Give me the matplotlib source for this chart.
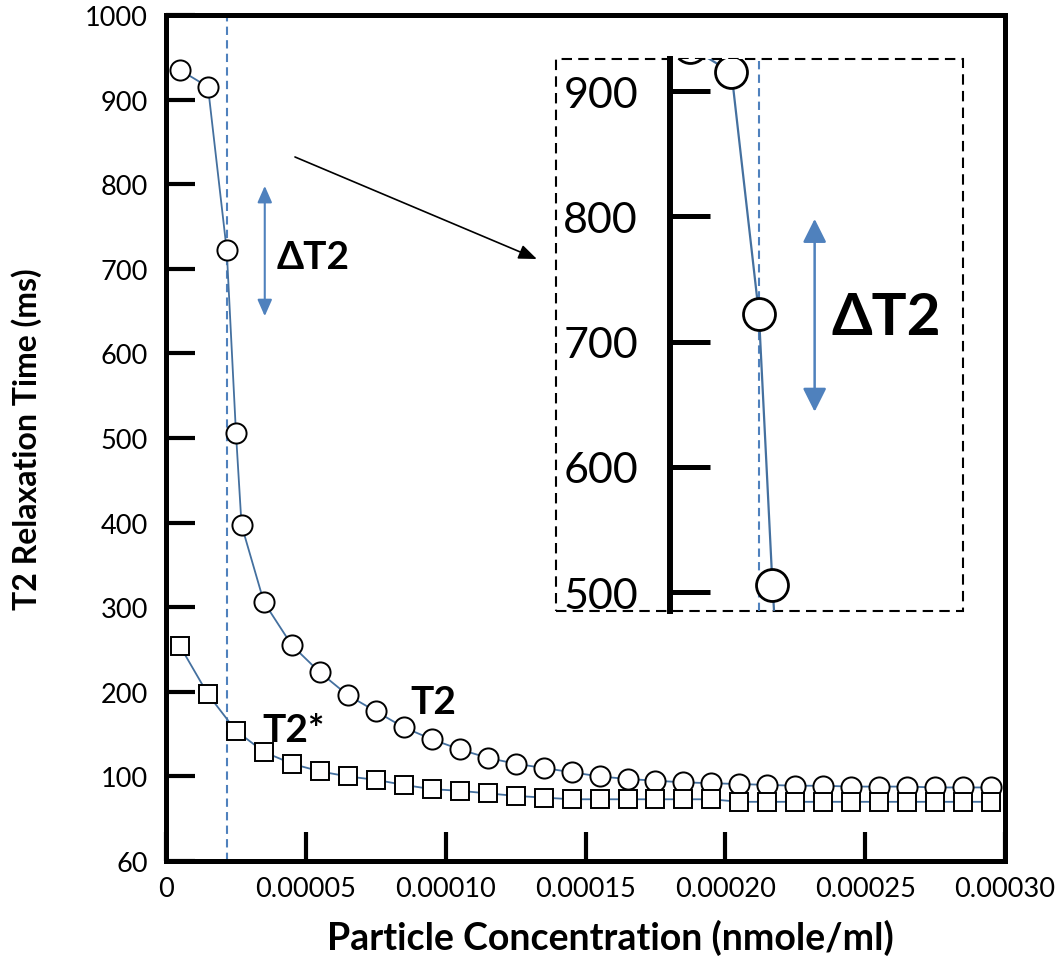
import matplotlib.pyplot as plt
import matplotlib.patches as patches
import numpy as np

plt.rcParams['font.family'] = ['Lato', 'DejaVu Sans']

# ========================  DATA ========================

# T2 (circles), concentration in nmole/ml
conc_t2 = np.array([5, 15, 21.7, 25, 27, 35, 45, 55, 65, 75, 85, 95, 105, 115, 125, 135,
                    145, 155, 165, 175, 185, 195, 205, 215, 225, 235, 245, 255, 265,
                    275, 285, 295]) * 1e-6
t2 = [935, 915, 722, 506, 397, 306, 255, 223, 196, 177, 158, 144, 132, 122, 115, 110,
      105, 100, 97, 95, 93, 92, 91, 90, 89, 89, 88, 88, 88, 87, 87, 87]

# T2* (squares)
conc_t2s = np.array([5, 15, 25, 35, 45, 55, 65, 75, 85, 95, 105, 115, 125, 135, 145,
                     155, 165, 175, 185, 195, 205, 215, 225, 235, 245, 255, 265, 275,
                     285, 295]) * 1e-6
t2s = [254, 197, 154, 129, 115, 106, 100, 96, 90, 85, 83, 80, 77, 75, 73,
       73, 73, 73, 73, 73, 70, 70, 70, 70, 70, 70, 70, 70, 70, 70]

x_ticks = [0, 0.00005, 0.00010, 0.00015, 0.00020, 0.00025, 0.00030]
x_tick_labels = ['0', '0.00005', '0.00010', '0.00015', '0.00020', '0.00025', '0.00030']
y_ticks = [0, 100, 200, 300, 400, 500, 600, 700, 800, 900, 1000]
y_tick_labels = ['60', '100', '200', '300', '400', '500', '600', '700', '800', '900', '1000']
inset_y_ticks = [500, 600, 700, 800, 900]

threshold_conc = 21.8e-6      # dashed marker line
delta_top, delta_bottom = 798, 644   # delta T2 arrow range
delta_conc = 35.3e-6

line_blue = '#44709F'
dash_blue = '#4F81BD'

# ========================  MAIN PLOT ========================

fig = plt.figure(figsize=(10.63, 9.70), dpi=100)
ax = fig.add_axes([0.1562, 0.1113, 0.7893, 0.8722])

ax.plot(conc_t2, t2, color=line_blue, lw=1.3, zorder=2)
ax.plot(conc_t2, t2, 'o', ms=14.5, mfc='white', mec='black', mew=1.4, zorder=3)
ax.plot(conc_t2s, t2s, color=line_blue, lw=1.3, zorder=2)
ax.plot(conc_t2s, t2s, 's', ms=13.5, mfc='white', mec='black', mew=1.4, zorder=3)

ax.axvline(threshold_conc, color=dash_blue, lw=1.5, ls=(0, (4, 2.5)), zorder=1)

ax.annotate('', xy=(delta_conc, delta_bottom), xytext=(delta_conc, delta_top),
            arrowprops=dict(arrowstyle='<|-|>,head_length=0.5,head_width=0.22',
                            color=dash_blue, lw=1.5, mutation_scale=20,
                            shrinkA=0, shrinkB=0))
ax.text(39.7e-6, 714, 'ΔT2', fontsize=28, fontweight='bold', va='center', ha='left')
ax.text(34.3e-6, 156, 'T2*', fontsize=28, fontweight='bold', va='center', ha='left')
ax.text(87.2e-6, 189, 'T2', fontsize=28, fontweight='bold', va='center', ha='left')

# pointer towards the zoomed box
ax.annotate('', xy=(132.6e-6, 711.6), xytext=(46.1e-6, 832.2),
            arrowprops=dict(arrowstyle='-|>,head_length=0.55,head_width=0.22',
                            color='black', lw=1.2, mutation_scale=20,
                            shrinkA=0, shrinkB=0))

ax.set_xlim(0, 0.0003)
ax.set_ylim(0, 1000)
ax.set_xticks(x_ticks)
ax.set_xticklabels(x_tick_labels)
ax.set_yticks(y_ticks)
ax.set_yticklabels(y_tick_labels)
for s in ax.spines.values():
    s.set_linewidth(3.6)
ax.tick_params(direction='in', length=21, width=3, labelsize=19.5)
ax.tick_params(axis='x', pad=11)
ax.tick_params(axis='y', pad=13)

ax.set_xlabel('Particle Concentration (nmole/ml)', fontsize=27, fontweight='bold')
ax.set_ylabel('T2 Relaxation Time (ms)', fontsize=23, fontweight='bold')
ax.xaxis.set_label_coords(0.529, -0.068)
ax.yaxis.set_label_coords(-0.148, 0.5)

# ========================  ZOOM INSET ========================

box = patches.Rectangle((0.523, 0.369), 0.383, 0.569, transform=fig.transFigure,
                        facecolor='white', edgecolor='black', lw=1.5,
                        ls=(0, (5, 3)), zorder=1)
fig.add_artist(box)

axi = fig.add_axes([0.6303, 0.369, 0.2756, 0.569], zorder=2)
axi.set_facecolor('none')
axi.plot(conc_t2, t2, color=line_blue, lw=1.6, zorder=2)
axi.plot(conc_t2, t2, 'o', ms=23, mfc='white', mec='black', mew=2, zorder=3)
axi.axvline(threshold_conc, color=dash_blue, lw=1.5, ls=(0, (4, 2.5)), zorder=1)
axi.annotate('', xy=(delta_conc, delta_bottom), xytext=(delta_conc, delta_top),
             arrowprops=dict(arrowstyle='<|-|>,head_length=0.72,head_width=0.36',
                             color=dash_blue, lw=1.8, mutation_scale=20,
                             shrinkA=0, shrinkB=0))
axi.text(39.5e-6, 719, 'ΔT2', fontsize=42, fontweight='bold', va='center', ha='left')

axi.set_xlim(0, 71.5e-6)
axi.set_ylim(484.8, 925.6)
axi.set_xticks([])
axi.set_yticks(inset_y_ticks)
for side in ['top', 'right', 'bottom']:
    axi.spines[side].set_visible(False)
axi.spines['left'].set_linewidth(4.3)
axi.tick_params(axis='y', direction='in', length=29, width=3.6, labelsize=31, pad=23)

fig.savefig('out.png', dpi=100)
